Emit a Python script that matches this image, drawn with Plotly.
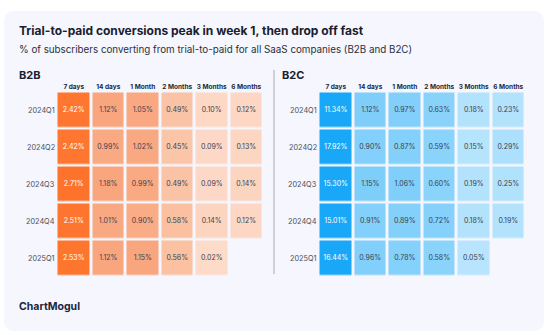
import plotly.graph_objects as go

W, H = 548, 335

cohorts = ["2024Q1", "2024Q2", "2024Q3", "2024Q4", "2025Q1"]
periods = ["7 days", "14 days", "1 Month", "2 Months", "3 Months", "6 Months"]

b2b = [
    [2.42, 1.12, 1.05, 0.49, 0.10, 0.12],
    [2.42, 0.99, 1.02, 0.45, 0.09, 0.13],
    [2.71, 1.18, 0.99, 0.49, 0.09, 0.14],
    [2.51, 1.01, 0.90, 0.58, 0.14, 0.12],
    [2.53, 1.12, 1.15, 0.56, 0.02, None],
]
b2c = [
    [11.34, 1.12, 0.97, 0.63, 0.18, 0.23],
    [17.92, 0.90, 0.87, 0.59, 0.15, 0.29],
    [15.30, 1.15, 1.06, 0.60, 0.19, 0.25],
    [15.01, 0.91, 0.89, 0.72, 0.18, 0.19],
    [16.44, 0.96, 0.78, 0.58, 0.05, None],
]

orange_scale = [
    [0.0, "#fde0d0"], [0.02 / 3, "#fddbc9"], [0.10 / 3, "#fdd8c5"],
    [0.14 / 3, "#fcd5c0"], [0.45 / 3, "#fbc5a8"], [0.60 / 3, "#fbbf9e"],
    [0.90 / 3, "#f9ac86"], [1.20 / 3, "#f9a47c"], [2.40 / 3, "#fe7630"],
    [1.0, "#fd7128"],
]
blue_scale = [
    [0.0, "#bde7fd"], [0.05 / 20, "#b8e5fd"], [0.25 / 20, "#b1e2fc"],
    [0.55 / 20, "#8bd4fb"], [0.75 / 20, "#85d1fb"], [1.15 / 20, "#7ecefa"],
    [11.0 / 20, "#19a8f7"], [1.0, "#19a8f7"],
]


def px_x(p):
    return p / W


def px_y(p):
    return 1 - p / H


fig = go.Figure()


def add_panel(z, scale, zmax, xref, yref, label_x):
    fig.add_trace(go.Heatmap(
        z=z, x=periods, y=cohorts, colorscale=scale, zmin=0, zmax=zmax,
        showscale=False, xgap=3, ygap=2.5, hoverinfo="skip",
        xaxis=xref, yaxis=yref,
    ))
    xs, ys, ts, cs = [], [], [], []
    for i, row in enumerate(z):
        for j, v in enumerate(row):
            if v is None:
                continue
            xs.append(periods[j])
            ys.append(cohorts[i])
            ts.append(f"{v:.2f}%")
            cs.append("#ffffff" if j == 0 else "#3b4150")
    fig.add_trace(go.Scatter(
        x=xs, y=ys, text=ts, mode="text", hoverinfo="skip", showlegend=False,
        textfont=dict(family="Inter", size=7, color=cs),
        xaxis=xref, yaxis=yref,
    ))
    # cohort labels, right-aligned just left of the grid
    for c in cohorts:
        fig.add_annotation(
            text=c, x=px_x(label_x), y=c, xref="paper", yref=yref,
            xanchor="right", yanchor="middle", showarrow=False,
            font=dict(family="Inter", size=7.3, color="#4a4f5a"),
        )


add_panel(b2b, orange_scale, 3, "x", "y", 57)
add_panel(b2c, blue_scale, 20, "x2", "y2", 318.5)

ydom = [px_y(276.5), px_y(91.5)]
x_common = dict(side="top", showgrid=False, zeroline=False, showline=False,
                ticks="", tickfont=dict(family="Inter", size=6.5, color="#1f2633"),
                tickvals=periods, ticktext=[f"<b>{p}</b>" for p in periods],
                fixedrange=True)
y_common = dict(showgrid=False, zeroline=False, showline=False, ticks="",
                autorange="reversed", showticklabels=False, fixedrange=True)

fig.update_layout(
    width=W, height=H,
    margin=dict(l=0, r=0, t=0, b=0),
    paper_bgcolor="#ffffff", plot_bgcolor="rgba(0,0,0,0)",
    showlegend=False,
    xaxis=dict(domain=[px_x(56.5), px_x(263.5)], anchor="y", **x_common),
    yaxis=dict(domain=ydom, anchor="x", **y_common),
    xaxis2=dict(domain=[px_x(318.5), px_x(525.5)], anchor="y2", **x_common),
    yaxis2=dict(domain=ydom, anchor="x2", **y_common),
)

# rounded card behind the content
l, t, r, b, rad = 4, 11, 544, 331, 11
card = (
    f"M {px_x(l + rad)},{px_y(t)} L {px_x(r - rad)},{px_y(t)} "
    f"Q {px_x(r)},{px_y(t)} {px_x(r)},{px_y(t + rad)} "
    f"L {px_x(r)},{px_y(b - rad)} Q {px_x(r)},{px_y(b)} {px_x(r - rad)},{px_y(b)} "
    f"L {px_x(l + rad)},{px_y(b)} Q {px_x(l)},{px_y(b)} {px_x(l)},{px_y(b - rad)} "
    f"L {px_x(l)},{px_y(t + rad)} Q {px_x(l)},{px_y(t)} {px_x(l + rad)},{px_y(t)} Z"
)
fig.add_shape(type="path", path=card, xref="paper", yref="paper",
              fillcolor="#f5f6fe", line=dict(width=0), layer="below")

# divider between the two panels
fig.add_shape(type="line", xref="paper", yref="paper",
              x0=px_x(274), x1=px_x(274), y0=px_y(70), y1=px_y(274),
              line=dict(color="#cfd1d8", width=2))


def label(text, x, y, size, color, bold=False, family="Inter"):
    fig.add_annotation(
        text=f"<b>{text}</b>" if bold else text,
        x=px_x(x), y=px_y(y), xref="paper", yref="paper",
        xanchor="left", yanchor="middle", showarrow=False,
        font=dict(family=family, size=size, color=color),
    )


label("Trial-to-paid conversions peak in week 1, then drop off fast", 17, 31, 12, "#18202e", bold=True)
label("% of subscribers converting from trial-to-paid for all SaaS companies (B2B and B2C)", 17, 49, 9.8, "#2a303c")
label("B2B", 17, 75, 11, "#18202e", bold=True)
label("B2C", 280, 75, 11, "#18202e", bold=True)
label("ChartMogul", 17, 306, 10.5, "#1c2540", bold=True)

fig.write_html("out.html")
